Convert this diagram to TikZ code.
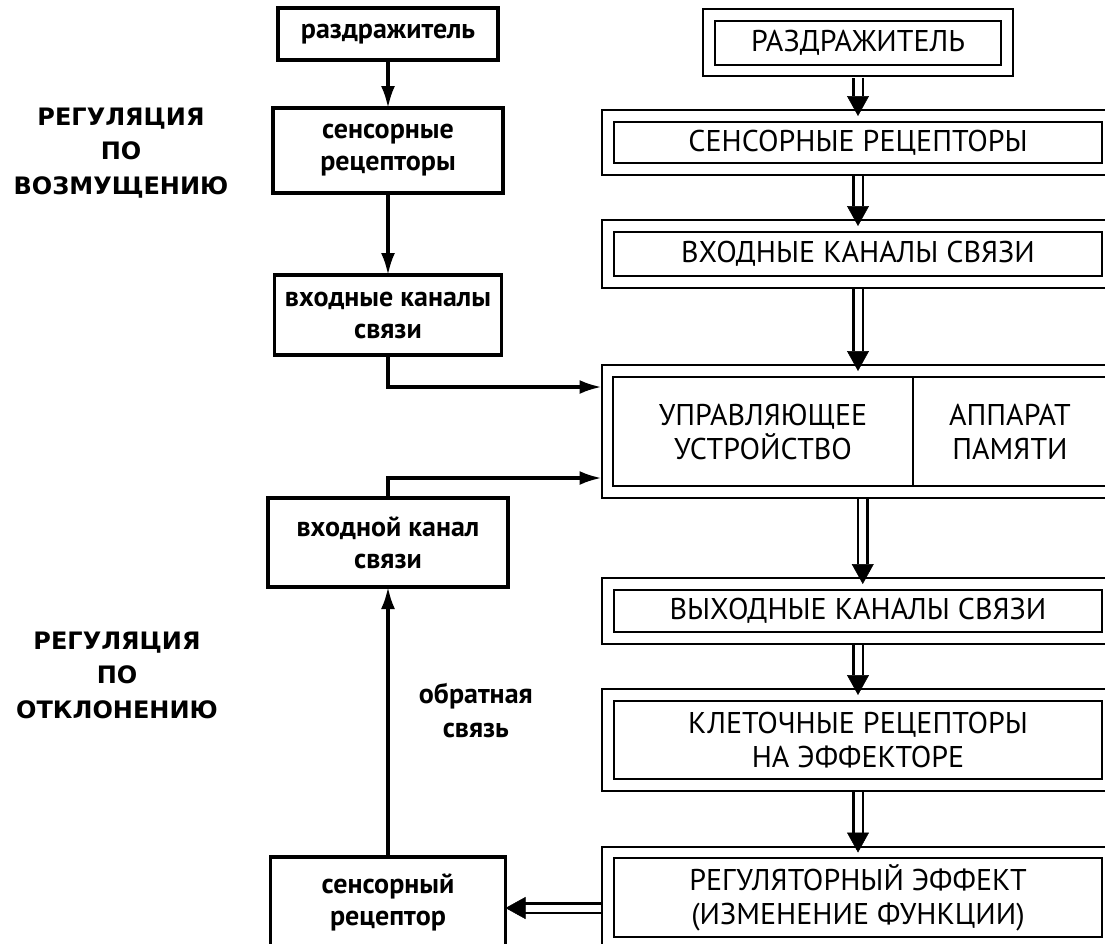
\documentclass[tikz,border=0pt]{standalone}
\usepackage{fontspec}
\setmainfont{PT Sans}
\newfontfamily\headfont{DejaVu Sans}
\usepackage{tikz}
\usetikzlibrary{arrows.meta,positioning,calc}

\begin{document}
\begin{tikzpicture}[x=1pt, y=1pt,
 box/.style={draw, line width=3.2pt, align=center, minimum height=52pt, inner sep=4pt, outer sep=0pt, font=\fontsize{28}{32}\selectfont\bfseries},
 dbox/.style={draw, double, double distance=9.5pt, line width=2.1pt, fill=white, align=center, minimum width=500pt, inner sep=4pt, outer sep=0pt, font=\fontsize{30}{34}\selectfont},
 arr/.style={-{Latex[length=22pt, width=14pt]}, line width=3.2pt},
 dblarr/.style={double, double distance=7pt, line width=2.4pt, -{Triangle[length=20pt, width=22pt, line width=0.5pt]}},
 heading/.style={align=center, font=\headfont\fontsize{24}{34.5}\selectfont\bfseries}]
\useasboundingbox (0,0) rectangle (1105,-943);
\clip (0,0) rectangle (1105,-943);
% left column
\node[box, minimum width=220pt] (stimL) at (388,-34) {раздражитель};
\node[box, minimum width=230pt, minimum height=85pt, below=48pt of stimL] (sensL) {сенсорные\\рецепторы};
\node[box, minimum width=227pt, minimum height=80pt, below=82pt of sensL] (inL) {входные каналы\\связи};
\node[box, minimum width=240pt, minimum height=89pt, below=143pt of inL] (inFb) {входной канал\\связи};
\node[box, minimum width=235pt, minimum height=90pt, below=270pt of inFb] (sensFb) {сенсорный\\рецептор};
% right column
\node[dbox, minimum width=298pt, minimum height=55.5pt] (stimR) at (858,-42.75) {РАЗДРАЖИТЕЛЬ};
\node[dbox, minimum height=53pt, below=45.5pt of stimR] (sensR) {СЕНСОРНЫЕ РЕЦЕПТОРЫ};
\node[dbox, minimum height=56pt, below=57pt of sensR] (inR) {ВХОДНЫЕ КАНАЛЫ СВЯЗИ};
\node[dbox, minimum width=510.5pt, minimum height=121pt, below=89pt of inR.south west, anchor=north west, xshift=-0.5pt] (ctrl) {};
\node[font=\fontsize{30}{34}\selectfont, align=center] (ctrlText) at ([xshift=155.5pt]ctrl.west) {УПРАВЛЯЮЩЕЕ\\УСТРОЙСТВО};
\node[font=\fontsize{30}{34}\selectfont, align=center] (memory) at ([xshift=402.5pt]ctrl.west) {АППАРАТ\\ПАМЯТИ};
\draw[line width=2.1pt] ([xshift=305.5pt, yshift=-5.75pt]ctrl.north west) -- ([xshift=305.5pt, yshift=5.75pt]ctrl.south west);
\node[dbox, minimum height=54pt, below=92pt of ctrl.south west, anchor=north west, xshift=0.5pt] (outR) {ВЫХОДНЫЕ КАНАЛЫ СВЯЗИ};
\node[dbox, minimum height=90pt, below=57pt of outR] (cellR) {КЛЕТОЧНЫЕ РЕЦЕПТОРЫ\\НА ЭФФЕКТОРЕ};
\node[dbox, minimum height=90pt, below=67.5pt of cellR] (effect) {РЕГУЛЯТОРНЫЙ ЭФФЕКТ\\(ИЗМЕНЕНИЕ ФУНКЦИИ)};
% headings
\node[heading] (perturb) at (121,-153) {РЕГУЛЯЦИЯ\\ПО\\ВОЗМУЩЕНИЮ};
\node[heading] (deviation) at (117,-675) {РЕГУЛЯЦИЯ\\ПО\\ОТКЛОНЕНИЮ};
% connectors
\draw[arr] (stimL) -- (sensL);
\draw[arr] (sensL) -- (inL);
\draw[arr, shorten >=6pt] (inL.south) |- ([yshift=-16pt]ctrl.north west);
\draw[arr, shorten >=6pt] (inFb.north) |- ([yshift=14pt]ctrl.south west);
\draw[arr] (sensFb) -- node[pos=0.544, right=26pt, font=\fontsize{28}{34}\selectfont\bfseries, align=center] (fbNote) {обратная\\связь} (inFb);
\foreach \a/\b in {stimR/sensR, sensR/inR, inR/ctrl, ctrl/outR, outR/cellR, cellR/effect}
  \draw[dblarr, shorten <=7pt] (\a.south) -- (\a.south |- \b.north);
\draw[dblarr, shorten <=7pt] ([yshift=-10.5pt]effect.west) -- ([yshift=-10.5pt]effect.west -| sensFb.east);
\end{tikzpicture}
\end{document}
